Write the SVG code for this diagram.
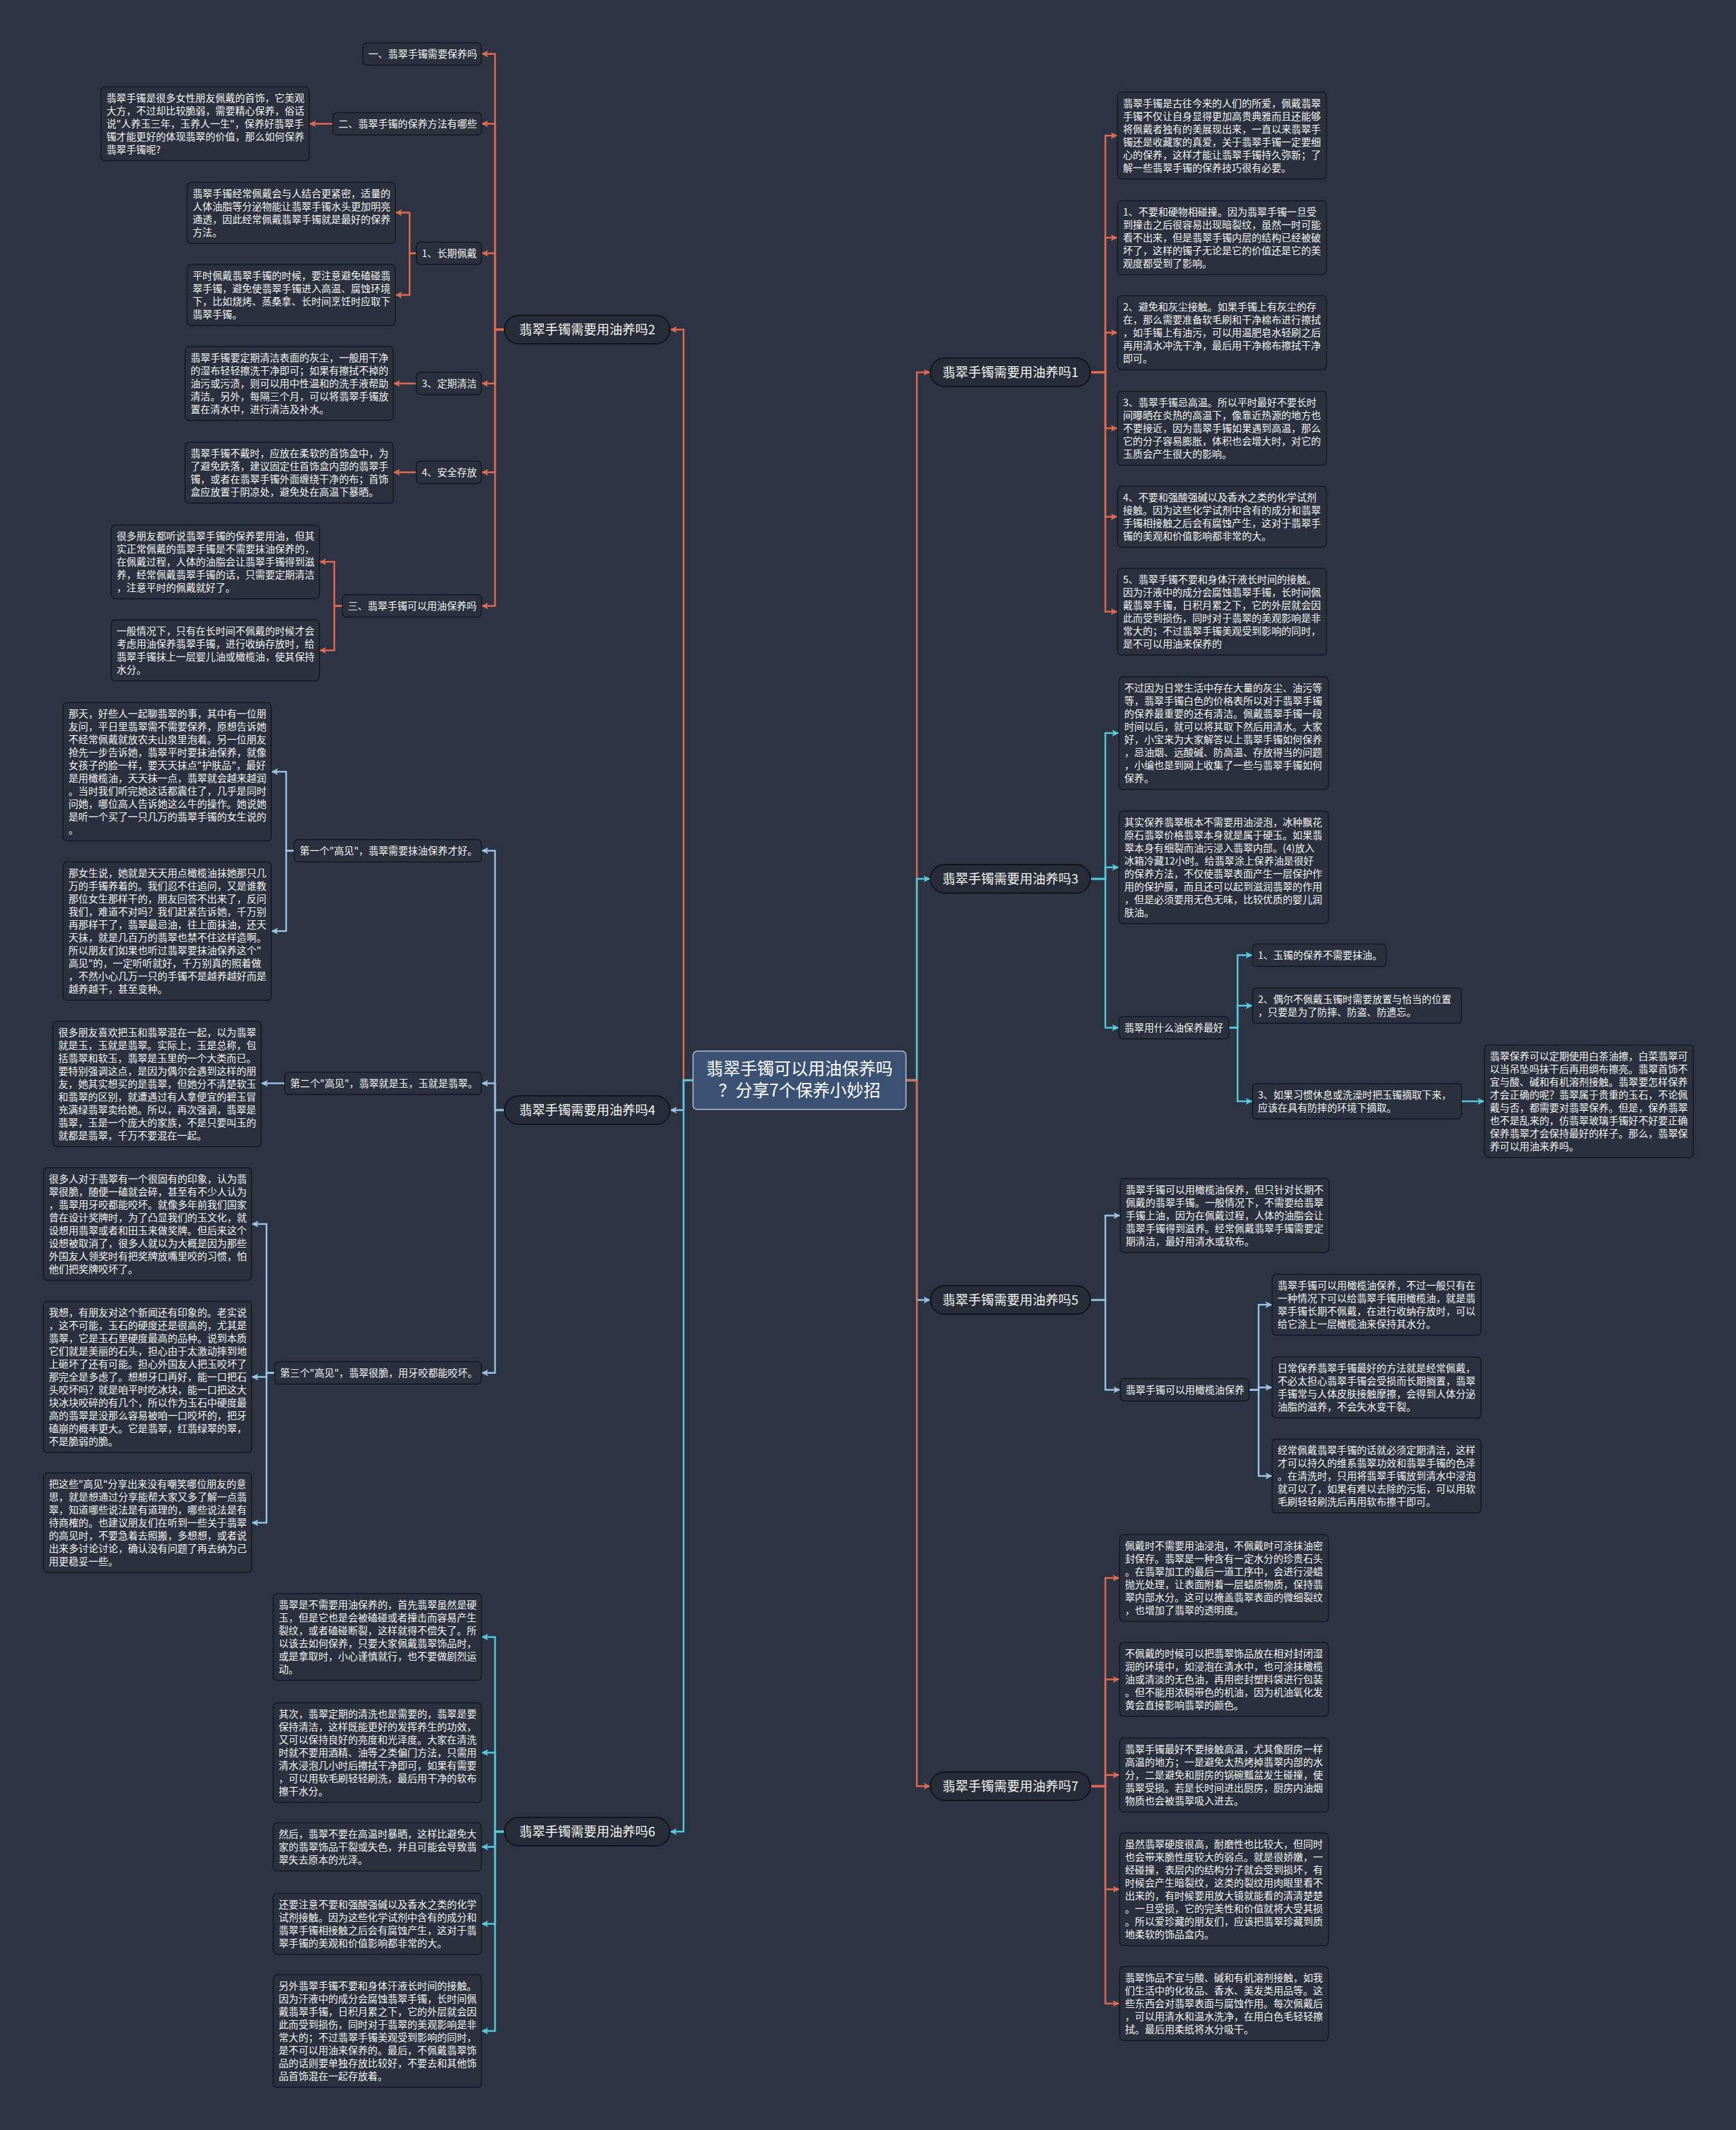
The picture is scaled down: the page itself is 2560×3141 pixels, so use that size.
<svg xmlns="http://www.w3.org/2000/svg" width="2560" height="3141" viewBox="0 0 2560 3141">
<style>
.bg{fill:#2c3342}
.box{fill:#2a303e;stroke:#15191f;stroke-width:1.5}
.br{fill:#262c38;stroke:#11151b;stroke-width:2}
.t{font-family:"Noto Sans CJK SC","Noto Sans",sans-serif;font-size:14.6px;fill:#f4f4f4}
.bt{font-family:"Noto Sans CJK SC","Noto Sans",sans-serif;font-size:19px;fill:#f4f4f4;text-anchor:middle}
.ct{font-family:"Noto Sans CJK SC","Noto Sans",sans-serif;font-size:25px;fill:#ffffff;text-anchor:middle}
.co{fill:none;stroke:#e06b53;stroke-width:2.5;marker-end:url(#aco)}
.lb{fill:none;stroke:#9dc3e2;stroke-width:2.5;marker-end:url(#alb)}
.cy{fill:none;stroke:#56cbe0;stroke-width:2.5;marker-end:url(#acy)}
</style>
<defs>
<marker id="aco" markerUnits="userSpaceOnUse" markerWidth="11" markerHeight="10" refX="10" refY="5" orient="auto"><path d="M0,0 L10,5 L0,10 L2.5,5 Z" fill="#e06b53"/></marker>
<marker id="alb" markerUnits="userSpaceOnUse" markerWidth="11" markerHeight="10" refX="10" refY="5" orient="auto"><path d="M0,0 L10,5 L0,10 L2.5,5 Z" fill="#9dc3e2"/></marker>
<marker id="acy" markerUnits="userSpaceOnUse" markerWidth="11" markerHeight="10" refX="10" refY="5" orient="auto"><path d="M0,0 L10,5 L0,10 L2.5,5 Z" fill="#56cbe0"/></marker>
</defs>
<rect class="bg" x="0" y="0" width="2560" height="3141"/>

<g id="connectors">
<path class="co" d="M1022,1593 H1008 V486 H988"/>
<path class="lb" d="M1022,1593 H1008 V1637 H988"/>
<path class="cy" d="M1022,1593 H1008 V2701 H988"/>
<path class="co" d="M1336,1593 H1352 V549 H1372"/>
<path class="cy" d="M1336,1593 H1352 V1296 H1372"/>
<path class="lb" d="M1336,1593 H1352 V1917 H1372"/>
<path class="co" d="M1336,1593 H1352 V2634 H1372"/>

<path class="co" d="M744,486 H730 V79.5 H710"/>
<path class="co" d="M744,486 H730 V182.5 H710"/>
<path class="co" d="M744,486 H730 V373.5 H710"/>
<path class="co" d="M744,486 H730 V565.5 H710"/>
<path class="co" d="M744,486 H730 V696.5 H710"/>
<path class="co" d="M744,486 H730 V893.5 H710"/>
<path class="co" d="M491,182.5 H456"/>
<path class="co" d="M614,373.5 H604 V313.5 H583"/>
<path class="co" d="M614,373.5 H604 V435 H583"/>
<path class="co" d="M614,565.5 H580"/>
<path class="co" d="M614,696.5 H580"/>
<path class="co" d="M505,893.5 H493 V828.5 H471"/>
<path class="co" d="M505,893.5 H493 V959 H471"/>

<path class="lb" d="M744,1637 H730 V1254.5 H710"/>
<path class="lb" d="M744,1637 H730 V1597.5 H710"/>
<path class="lb" d="M744,1637 H730 V2024.5 H710"/>
<path class="lb" d="M434,1254.5 H422 V1138 H400"/>
<path class="lb" d="M434,1254.5 H422 V1373 H400"/>
<path class="lb" d="M420,1597.5 H385"/>
<path class="lb" d="M405,2024.5 H393 V1805 H371"/>
<path class="lb" d="M405,2024.5 H393 V2030.5 H371"/>
<path class="lb" d="M405,2024.5 H393 V2245.5 H371"/>

<path class="cy" d="M744,2701 H730 V2414 H710"/>
<path class="cy" d="M744,2701 H730 V2584.5 H710"/>
<path class="cy" d="M744,2701 H730 V2723.5 H710"/>
<path class="cy" d="M744,2701 H730 V2837 H710"/>
<path class="cy" d="M744,2701 H730 V2995 H710"/>

<path class="co" d="M1608,549 H1630 V200 H1648"/>
<path class="co" d="M1608,549 H1630 V350.5 H1648"/>
<path class="co" d="M1608,549 H1630 V490.5 H1648"/>
<path class="co" d="M1608,549 H1630 V631.5 H1648"/>
<path class="co" d="M1608,549 H1630 V762 H1648"/>
<path class="co" d="M1608,549 H1630 V902 H1648"/>

<path class="cy" d="M1608,1296 H1630 V1081 H1650"/>
<path class="cy" d="M1608,1296 H1630 V1279 H1650"/>
<path class="cy" d="M1608,1296 H1630 V1515.5 H1650"/>
<path class="cy" d="M1812,1515.5 H1825 V1408.5 H1847"/>
<path class="cy" d="M1812,1515.5 H1825 V1483 H1847"/>
<path class="cy" d="M1812,1515.5 H1825 V1624 H1847"/>
<path class="cy" d="M2155,1624 H2189"/>

<path class="lb" d="M1608,1917 H1630 V1792.5 H1652"/>
<path class="lb" d="M1608,1917 H1630 V2049.5 H1652"/>
<path class="lb" d="M1842,2049.5 H1856 V1924 H1876"/>
<path class="lb" d="M1842,2049.5 H1856 V2046 H1876"/>
<path class="lb" d="M1842,2049.5 H1856 V2176.5 H1876"/>

<path class="co" d="M1608,2634 H1630 V2327 H1651"/>
<path class="co" d="M1608,2634 H1630 V2476.5 H1651"/>
<path class="co" d="M1608,2634 H1630 V2617.5 H1651"/>
<path class="co" d="M1608,2634 H1630 V2786 H1651"/>
<path class="co" d="M1608,2634 H1630 V2954.5 H1651"/>
</g>

<g id="center">
<rect x="1022" y="1550" width="314" height="86" rx="6" fill="#3b5274" stroke="#b4c2d6" stroke-width="1.5"/>
<text class="ct" x="1179" y="1585">翡翠手镯可以用油保养吗</text>
<text class="ct" x="1179" y="1617">？分享7个保养小妙招</text>
</g>

<g id="b2"><rect class="br" x="744" y="465" width="244" height="42" rx="21"/><text class="bt" x="866" y="493">翡翠手镯需要用油养吗2</text></g>
<g id="b4"><rect class="br" x="744" y="1616" width="244" height="42" rx="21"/><text class="bt" x="866" y="1644">翡翠手镯需要用油养吗4</text></g>
<g id="b6"><rect class="br" x="744" y="2680" width="244" height="42" rx="21"/><text class="bt" x="866" y="2708">翡翠手镯需要用油养吗6</text></g>
<g id="b1"><rect class="br" x="1372" y="528" width="236" height="42" rx="21"/><text class="bt" x="1490" y="556">翡翠手镯需要用油养吗1</text></g>
<g id="b3"><rect class="br" x="1372" y="1275" width="236" height="42" rx="21"/><text class="bt" x="1490" y="1303">翡翠手镯需要用油养吗3</text></g>
<g id="b5"><rect class="br" x="1372" y="1896" width="236" height="42" rx="21"/><text class="bt" x="1490" y="1924">翡翠手镯需要用油养吗5</text></g>
<g id="b7"><rect class="br" x="1372" y="2613" width="236" height="42" rx="21"/><text class="bt" x="1490" y="2641">翡翠手镯需要用油养吗7</text></g>

<!-- branch 2 -->
<g id="n2a"><rect class="box" x="535" y="63" width="175" height="33" rx="6"/><text class="t" x="543" y="85">一、翡翠手镯需要保养吗</text></g>
<g id="n2b"><rect class="box" x="491" y="166" width="219" height="33" rx="6"/><text class="t" x="499" y="188">二、翡翠手镯的保养方法有哪些</text></g>
<g id="n2b1"><rect class="box" x="149" y="128" width="307" height="109" rx="6"/><text class="t" x="157" y="150"><tspan x="157" dy="0">翡翠手镯是很多女性朋友佩戴的首饰，它美观</tspan><tspan x="157" dy="19">大方，不过却比较脆弱，需要精心保养，俗话</tspan><tspan x="157" dy="19">说"人养玉三年，玉养人一生"，保养好翡翠手</tspan><tspan x="157" dy="19">镯才能更好的体现翡翠的价值，那么如何保养</tspan><tspan x="157" dy="19">翡翠手镯呢?</tspan></text></g>
<g id="n2c"><rect class="box" x="614" y="357" width="96" height="33" rx="6"/><text class="t" x="622" y="379">1、长期佩戴</text></g>
<g id="n2c1"><rect class="box" x="276" y="269" width="307" height="90" rx="6"/><text class="t" x="284" y="291"><tspan x="284" dy="0">翡翠手镯经常佩戴会与人结合更紧密，适量的</tspan><tspan x="284" dy="19">人体油脂等分泌物能让翡翠手镯水头更加明亮</tspan><tspan x="284" dy="19">通透，因此经常佩戴翡翠手镯就是最好的保养</tspan><tspan x="284" dy="19">方法。</tspan></text></g>
<g id="n2c2"><rect class="box" x="276" y="390" width="307" height="90" rx="6"/><text class="t" x="284" y="412"><tspan x="284" dy="0">平时佩戴翡翠手镯的时候，要注意避免磕碰翡</tspan><tspan x="284" dy="19">翠手镯，避免使翡翠手镯进入高温、腐蚀环境</tspan><tspan x="284" dy="19">下，比如烧烤、蒸桑拿、长时间烹饪时应取下</tspan><tspan x="284" dy="19">翡翠手镯。</tspan></text></g>
<g id="n2d"><rect class="box" x="614" y="549" width="96" height="33" rx="6"/><text class="t" x="622" y="571">3、定期清洁</text></g>
<g id="n2d1"><rect class="box" x="273" y="511" width="307" height="109" rx="6"/><text class="t" x="281" y="533"><tspan x="281" dy="0">翡翠手镯要定期清洁表面的灰尘，一般用干净</tspan><tspan x="281" dy="19">的湿布轻轻擦洗干净即可；如果有擦拭不掉的</tspan><tspan x="281" dy="19">油污或污渍，则可以用中性温和的洗手液帮助</tspan><tspan x="281" dy="19">清洁。另外，每隔三个月，可以将翡翠手镯放</tspan><tspan x="281" dy="19">置在清水中，进行清洁及补水。</tspan></text></g>
<g id="n2e"><rect class="box" x="614" y="680" width="96" height="33" rx="6"/><text class="t" x="622" y="702">4、安全存放</text></g>
<g id="n2e1"><rect class="box" x="273" y="652" width="307" height="90" rx="6"/><text class="t" x="281" y="674"><tspan x="281" dy="0">翡翠手镯不戴时，应放在柔软的首饰盒中，为</tspan><tspan x="281" dy="19">了避免跌落，建议固定住首饰盒内部的翡翠手</tspan><tspan x="281" dy="19">镯，或者在翡翠手镯外面缠绕干净的布；首饰</tspan><tspan x="281" dy="19">盒应放置于阴凉处，避免处在高温下暴晒。</tspan></text></g>
<g id="n2f"><rect class="box" x="505" y="877" width="205" height="33" rx="6"/><text class="t" x="513" y="899">三、翡翠手镯可以用油保养吗</text></g>
<g id="n2f1"><rect class="box" x="164" y="774" width="307" height="109" rx="6"/><text class="t" x="172" y="796"><tspan x="172" dy="0">很多朋友都听说翡翠手镯的保养要用油，但其</tspan><tspan x="172" dy="19">实正常佩戴的翡翠手镯是不需要抹油保养的，</tspan><tspan x="172" dy="19">在佩戴过程，人体的油脂会让翡翠手镯得到滋</tspan><tspan x="172" dy="19">养，经常佩戴翡翠手镯的话，只需要定期清洁</tspan><tspan x="172" dy="19">，注意平时的佩戴就好了。</tspan></text></g>
<g id="n2f2"><rect class="box" x="164" y="914" width="307" height="90" rx="6"/><text class="t" x="172" y="936"><tspan x="172" dy="0">一般情况下，只有在长时间不佩戴的时候才会</tspan><tspan x="172" dy="19">考虑用油保养翡翠手镯，进行收纳存放时，给</tspan><tspan x="172" dy="19">翡翠手镯抹上一层婴儿油或橄榄油，使其保持</tspan><tspan x="172" dy="19">水分。</tspan></text></g>

<!-- branch 4 -->
<g id="n4a"><rect class="box" x="434" y="1238" width="276" height="33" rx="6"/><text class="t" x="442" y="1260">第一个"高见"，翡翠需要抹油保养才好。</text></g>
<g id="n4a1"><rect class="box" x="93" y="1036" width="307" height="204" rx="6"/><text class="t" x="101" y="1058"><tspan x="101" dy="0">那天，好些人一起聊翡翠的事，其中有一位朋</tspan><tspan x="101" dy="19">友问，平日里翡翠需不需要保养，原想告诉她</tspan><tspan x="101" dy="19">不经常佩戴就放农夫山泉里泡着。另一位朋友</tspan><tspan x="101" dy="19">抢先一步告诉她，翡翠平时要抹油保养，就像</tspan><tspan x="101" dy="19">女孩子的脸一样，要天天抹点"护肤品"，最好</tspan><tspan x="101" dy="19">是用橄榄油，天天抹一点，翡翠就会越来越润</tspan><tspan x="101" dy="19">。当时我们听完她这话都震住了，几乎是同时</tspan><tspan x="101" dy="19">问她，哪位高人告诉她这么牛的操作。她说她</tspan><tspan x="101" dy="19">是听一个买了一只几万的翡翠手镯的女生说的</tspan><tspan x="101" dy="19">。</tspan></text></g>
<g id="n4a2"><rect class="box" x="93" y="1271" width="307" height="204" rx="6"/><text class="t" x="101" y="1293"><tspan x="101" dy="0">那女生说，她就是天天用点橄榄油抹她那只几</tspan><tspan x="101" dy="19">万的手镯养着的。我们忍不住追问，又是谁教</tspan><tspan x="101" dy="19">那位女生那样干的，朋友回答不出来了，反问</tspan><tspan x="101" dy="19">我们，难道不对吗？我们赶紧告诉她，千万别</tspan><tspan x="101" dy="19">再那样干了，翡翠最忌油，往上面抹油，还天</tspan><tspan x="101" dy="19">天抹，就是几百万的翡翠也禁不住这样造啊。</tspan><tspan x="101" dy="19">所以朋友们如果也听过翡翠要抹油保养这个"</tspan><tspan x="101" dy="19">高见"的，一定听听就好，千万别真的照着做</tspan><tspan x="101" dy="19">，不然小心几万一只的手镯不是越养越好而是</tspan><tspan x="101" dy="19">越养越干，甚至变种。</tspan></text></g>
<g id="n4b"><rect class="box" x="420" y="1581" width="290" height="33" rx="6"/><text class="t" x="428" y="1603">第二个"高见"，翡翠就是玉，玉就是翡翠。</text></g>
<g id="n4b1"><rect class="box" x="78" y="1506" width="307" height="185" rx="6"/><text class="t" x="86" y="1528"><tspan x="86" dy="0">很多朋友喜欢把玉和翡翠混在一起，以为翡翠</tspan><tspan x="86" dy="19">就是玉，玉就是翡翠。实际上，玉是总称，包</tspan><tspan x="86" dy="19">括翡翠和软玉，翡翠是玉里的一个大类而已。</tspan><tspan x="86" dy="19">要特别强调这点，是因为偶尔会遇到这样的朋</tspan><tspan x="86" dy="19">友，她其实想买的是翡翠，但她分不清楚软玉</tspan><tspan x="86" dy="19">和翡翠的区别，就遭遇过有人拿便宜的碧玉冒</tspan><tspan x="86" dy="19">充满绿翡翠卖给她。所以，再次强调，翡翠是</tspan><tspan x="86" dy="19">翡翠，玉是一个庞大的家族，不是只要叫玉的</tspan><tspan x="86" dy="19">就都是翡翠，千万不要混在一起。</tspan></text></g>
<g id="n4c"><rect class="box" x="405" y="2008" width="305" height="33" rx="6"/><text class="t" x="413" y="2030">第三个"高见"，翡翠很脆，用牙咬都能咬坏。</text></g>
<g id="n4c1"><rect class="box" x="64" y="1722" width="307" height="166" rx="6"/><text class="t" x="72" y="1744"><tspan x="72" dy="0">很多人对于翡翠有一个很固有的印象，认为翡</tspan><tspan x="72" dy="19">翠很脆，随便一磕就会碎，甚至有不少人认为</tspan><tspan x="72" dy="19">，翡翠用牙咬都能咬坏。就像多年前我们国家</tspan><tspan x="72" dy="19">曾在设计奖牌时，为了凸显我们的玉文化，就</tspan><tspan x="72" dy="19">设想用翡翠或者和田玉来做奖牌。但后来这个</tspan><tspan x="72" dy="19">设想被取消了，很多人就以为大概是因为那些</tspan><tspan x="72" dy="19">外国友人领奖时有把奖牌放嘴里咬的习惯，怕</tspan><tspan x="72" dy="19">他们把奖牌咬坏了。</tspan></text></g>
<g id="n4c2"><rect class="box" x="64" y="1919" width="307" height="223" rx="6"/><text class="t" x="72" y="1941"><tspan x="72" dy="0">我想，有朋友对这个新闻还有印象的。老实说</tspan><tspan x="72" dy="19">，这不可能，玉石的硬度还是很高的，尤其是</tspan><tspan x="72" dy="19">翡翠，它是玉石里硬度最高的品种。说到本质</tspan><tspan x="72" dy="19">它们就是美丽的石头，担心由于太激动摔到地</tspan><tspan x="72" dy="19">上砸坏了还有可能。担心外国友人把玉咬坏了</tspan><tspan x="72" dy="19">那完全是多虑了。想想牙口再好，能一口把石</tspan><tspan x="72" dy="19">头咬坏吗？就是咱平时吃冰块，能一口把这大</tspan><tspan x="72" dy="19">块冰块咬碎的有几个，所以作为玉石中硬度最</tspan><tspan x="72" dy="19">高的翡翠是没那么容易被咱一口咬坏的，把牙</tspan><tspan x="72" dy="19">磕崩的概率更大。它是翡翠，红翡绿翠的翠，</tspan><tspan x="72" dy="19">不是脆弱的脆。</tspan></text></g>
<g id="n4c3"><rect class="box" x="64" y="2172" width="307" height="147" rx="6"/><text class="t" x="72" y="2194"><tspan x="72" dy="0">把这些"高见"分享出来没有嘲笑哪位朋友的意</tspan><tspan x="72" dy="19">思，就是想通过分享能帮大家又多了解一点翡</tspan><tspan x="72" dy="19">翠，知道哪些说法是有道理的，哪些说法是有</tspan><tspan x="72" dy="19">待商榷的。也建议朋友们在听到一些关于翡翠</tspan><tspan x="72" dy="19">的高见时，不要急着去照搬，多想想，或者说</tspan><tspan x="72" dy="19">出来多讨论讨论，确认没有问题了再去纳为己</tspan><tspan x="72" dy="19">用更稳妥一些。</tspan></text></g>

<!-- branch 6 -->
<g id="n6a"><rect class="box" x="403" y="2350" width="307" height="128" rx="6"/><text class="t" x="411" y="2372"><tspan x="411" dy="0">翡翠是不需要用油保养的，首先翡翠虽然是硬</tspan><tspan x="411" dy="19">玉，但是它也是会被磕碰或者撞击而容易产生</tspan><tspan x="411" dy="19">裂纹，或者磕碰断裂，这样就得不偿失了。所</tspan><tspan x="411" dy="19">以该去如何保养，只要大家佩戴翡翠饰品时，</tspan><tspan x="411" dy="19">或是拿取时，小心谨慎就行，也不要做剧烈运</tspan><tspan x="411" dy="19">动。</tspan></text></g>
<g id="n6b"><rect class="box" x="403" y="2511" width="307" height="147" rx="6"/><text class="t" x="411" y="2533"><tspan x="411" dy="0">其次，翡翠定期的清洗也是需要的，翡翠是要</tspan><tspan x="411" dy="19">保持清洁，这样既能更好的发挥养生的功效，</tspan><tspan x="411" dy="19">又可以保持良好的亮度和光泽度。大家在清洗</tspan><tspan x="411" dy="19">时就不要用酒精、油等之类偏门方法，只需用</tspan><tspan x="411" dy="19">清水浸泡几小时后擦拭干净即可，如果有需要</tspan><tspan x="411" dy="19">，可以用软毛刷轻轻刷洗，最后用干净的软布</tspan><tspan x="411" dy="19">擦干水分。</tspan></text></g>
<g id="n6c"><rect class="box" x="403" y="2688" width="307" height="71" rx="6"/><text class="t" x="411" y="2710"><tspan x="411" dy="0">然后，翡翠不要在高温时暴晒，这样比避免大</tspan><tspan x="411" dy="19">家的翡翠饰品干裂或失色，并且可能会导致翡</tspan><tspan x="411" dy="19">翠失去原本的光泽。</tspan></text></g>
<g id="n6d"><rect class="box" x="403" y="2792" width="307" height="90" rx="6"/><text class="t" x="411" y="2814"><tspan x="411" dy="0">还要注意不要和强酸强碱以及香水之类的化学</tspan><tspan x="411" dy="19">试剂接触。因为这些化学试剂中含有的成分和</tspan><tspan x="411" dy="19">翡翠手镯相接触之后会有腐蚀产生，这对于翡</tspan><tspan x="411" dy="19">翠手镯的美观和价值影响都非常的大。</tspan></text></g>
<g id="n6e"><rect class="box" x="403" y="2912" width="307" height="166" rx="6"/><text class="t" x="411" y="2934"><tspan x="411" dy="0">另外翡翠手镯不要和身体汗液长时间的接触。</tspan><tspan x="411" dy="19">因为汗液中的成分会腐蚀翡翠手镯，长时间佩</tspan><tspan x="411" dy="19">戴翡翠手镯，日积月累之下，它的外层就会因</tspan><tspan x="411" dy="19">此而受到损伤，同时对于翡翠的美观影响是非</tspan><tspan x="411" dy="19">常大的；不过翡翠手镯美观受到影响的同时，</tspan><tspan x="411" dy="19">是不可以用油来保养的。最后，不佩戴翡翠饰</tspan><tspan x="411" dy="19">品的话则要单独存放比较好，不要去和其他饰</tspan><tspan x="411" dy="19">品首饰混在一起存放着。</tspan></text></g>

<!-- branch 1 -->
<g id="n1a"><rect class="box" x="1648" y="136" width="308" height="128" rx="6"/><text class="t" x="1656" y="158"><tspan x="1656" dy="0">翡翠手镯是古往今来的人们的所爱，佩戴翡翠</tspan><tspan x="1656" dy="19">手镯不仅让自身显得更加高贵典雅而且还能够</tspan><tspan x="1656" dy="19">将佩戴者独有的美展现出来，一直以来翡翠手</tspan><tspan x="1656" dy="19">镯还是收藏家的真爱，关于翡翠手镯一定要细</tspan><tspan x="1656" dy="19">心的保养，这样才能让翡翠手镯持久弥新；了</tspan><tspan x="1656" dy="19">解一些翡翠手镯的保养技巧很有必要。</tspan></text></g>
<g id="n1b"><rect class="box" x="1648" y="296" width="308" height="109" rx="6"/><text class="t" x="1656" y="318"><tspan x="1656" dy="0">1、不要和硬物相碰撞。因为翡翠手镯一旦受</tspan><tspan x="1656" dy="19">到撞击之后很容易出现暗裂纹，虽然一时可能</tspan><tspan x="1656" dy="19">看不出来，但是翡翠手镯内层的结构已经被破</tspan><tspan x="1656" dy="19">坏了，这样的镯子无论是它的价值还是它的美</tspan><tspan x="1656" dy="19">观度都受到了影响。</tspan></text></g>
<g id="n1c"><rect class="box" x="1648" y="436" width="308" height="109" rx="6"/><text class="t" x="1656" y="458"><tspan x="1656" dy="0">2、避免和灰尘接触。如果手镯上有灰尘的存</tspan><tspan x="1656" dy="19">在，那么需要准备软毛刷和干净棉布进行擦拭</tspan><tspan x="1656" dy="19">，如手镯上有油污，可以用温肥皂水轻刷之后</tspan><tspan x="1656" dy="19">再用清水冲洗干净，最后用干净棉布擦拭干净</tspan><tspan x="1656" dy="19">即可。</tspan></text></g>
<g id="n1d"><rect class="box" x="1648" y="577" width="308" height="109" rx="6"/><text class="t" x="1656" y="599"><tspan x="1656" dy="0">3、翡翠手镯忌高温。所以平时最好不要长时</tspan><tspan x="1656" dy="19">间曝晒在炎热的高温下，像靠近热源的地方也</tspan><tspan x="1656" dy="19">不要接近，因为翡翠手镯如果遇到高温，那么</tspan><tspan x="1656" dy="19">它的分子容易膨胀，体积也会增大时，对它的</tspan><tspan x="1656" dy="19">玉质会产生很大的影响。</tspan></text></g>
<g id="n1e"><rect class="box" x="1648" y="717" width="308" height="90" rx="6"/><text class="t" x="1656" y="739"><tspan x="1656" dy="0">4、不要和强酸强碱以及香水之类的化学试剂</tspan><tspan x="1656" dy="19">接触。因为这些化学试剂中含有的成分和翡翠</tspan><tspan x="1656" dy="19">手镯相接触之后会有腐蚀产生，这对于翡翠手</tspan><tspan x="1656" dy="19">镯的美观和价值影响都非常的大。</tspan></text></g>
<g id="n1f"><rect class="box" x="1648" y="838" width="308" height="128" rx="6"/><text class="t" x="1656" y="860"><tspan x="1656" dy="0">5、翡翠手镯不要和身体汗液长时间的接触。</tspan><tspan x="1656" dy="19">因为汗液中的成分会腐蚀翡翠手镯，长时间佩</tspan><tspan x="1656" dy="19">戴翡翠手镯，日积月累之下，它的外层就会因</tspan><tspan x="1656" dy="19">此而受到损伤，同时对于翡翠的美观影响是非</tspan><tspan x="1656" dy="19">常大的；不过翡翠手镯美观受到影响的同时，</tspan><tspan x="1656" dy="19">是不可以用油来保养的</tspan></text></g>

<!-- branch 3 -->
<g id="n3a"><rect class="box" x="1650" y="998" width="309" height="166" rx="6"/><text class="t" x="1658" y="1020"><tspan x="1658" dy="0">不过因为日常生活中存在大量的灰尘、油污等</tspan><tspan x="1658" dy="19">等，翡翠手镯白色的价格表所以对于翡翠手镯</tspan><tspan x="1658" dy="19">的保养最重要的还有清洁。佩戴翡翠手镯一段</tspan><tspan x="1658" dy="19">时间以后，就可以将其取下然后用清水。大家</tspan><tspan x="1658" dy="19">好，小宝来为大家解答以上翡翠手镯如何保养</tspan><tspan x="1658" dy="19">，忌油烟、远酸碱、防高温、存放得当的问题</tspan><tspan x="1658" dy="19">，小编也是到网上收集了一些与翡翠手镯如何</tspan><tspan x="1658" dy="19">保养。</tspan></text></g>
<g id="n3b"><rect class="box" x="1650" y="1196" width="309" height="166" rx="6"/><text class="t" x="1658" y="1218"><tspan x="1658" dy="0">其实保养翡翠根本不需要用油浸泡，冰种飘花</tspan><tspan x="1658" dy="19">原石翡翠价格翡翠本身就是属于硬玉。如果翡</tspan><tspan x="1658" dy="19">翠本身有细裂而油污浸入翡翠内部。(4)放入</tspan><tspan x="1658" dy="19">冰箱冷藏12小时。给翡翠涂上保养油是很好</tspan><tspan x="1658" dy="19">的保养方法，不仅使翡翠表面产生一层保护作</tspan><tspan x="1658" dy="19">用的保护膜，而且还可以起到滋润翡翠的作用</tspan><tspan x="1658" dy="19">，但是必须要用无色无味，比较优质的婴儿润</tspan><tspan x="1658" dy="19">肤油。</tspan></text></g>
<g id="n3c"><rect class="box" x="1650" y="1499" width="162" height="33" rx="6"/><text class="t" x="1658" y="1521">翡翠用什么油保养最好</text></g>
<g id="n3c1"><rect class="box" x="1847" y="1392" width="197" height="33" rx="6"/><text class="t" x="1855" y="1414">1、玉镯的保养不需要抹油。</text></g>
<g id="n3c2"><rect class="box" x="1847" y="1457" width="308" height="52" rx="6"/><text class="t" x="1855" y="1479"><tspan x="1855" dy="0">2、偶尔不佩戴玉镯时需要放置与恰当的位置</tspan><tspan x="1855" dy="19">，只要是为了防摔、防盗、防遗忘。</tspan></text></g>
<g id="n3c3"><rect class="box" x="1847" y="1598" width="308" height="52" rx="6"/><text class="t" x="1855" y="1620"><tspan x="1855" dy="0">3、如果习惯休息或洗澡时把玉镯摘取下来，</tspan><tspan x="1855" dy="19">应该在具有防摔的环境下摘取。</tspan></text></g>
<g id="n3c3a"><rect class="box" x="2189" y="1541" width="308" height="166" rx="6"/><text class="t" x="2197" y="1563"><tspan x="2197" dy="0">翡翠保养可以定期使用白茶油擦，白菜翡翠可</tspan><tspan x="2197" dy="19">以当吊坠吗抹干后再用绸布擦亮。翡翠首饰不</tspan><tspan x="2197" dy="19">宜与酸、碱和有机溶剂接触。翡翠要怎样保养</tspan><tspan x="2197" dy="19">才会正确的呢？翡翠属于贵重的玉石，不论佩</tspan><tspan x="2197" dy="19">戴与否，都需要对翡翠保养。但是，保养翡翠</tspan><tspan x="2197" dy="19">也不是乱来的，仿翡翠玻璃手镯好不好要正确</tspan><tspan x="2197" dy="19">保养翡翠才会保持最好的样子。那么，翡翠保</tspan><tspan x="2197" dy="19">养可以用油来养吗。</tspan></text></g>

<!-- branch 5 -->
<g id="n5a"><rect class="box" x="1652" y="1738" width="308" height="109" rx="6"/><text class="t" x="1660" y="1760"><tspan x="1660" dy="0">翡翠手镯可以用橄榄油保养，但只针对长期不</tspan><tspan x="1660" dy="19">佩戴的翡翠手镯。一般情况下，不需要给翡翠</tspan><tspan x="1660" dy="19">手镯上油，因为在佩戴过程，人体的油脂会让</tspan><tspan x="1660" dy="19">翡翠手镯得到滋养。经常佩戴翡翠手镯需要定</tspan><tspan x="1660" dy="19">期清洁，最好用清水或软布。</tspan></text></g>
<g id="n5b"><rect class="box" x="1652" y="2033" width="190" height="33" rx="6"/><text class="t" x="1660" y="2055">翡翠手镯可以用橄榄油保养</text></g>
<g id="n5b1"><rect class="box" x="1876" y="1879" width="308" height="90" rx="6"/><text class="t" x="1884" y="1901"><tspan x="1884" dy="0">翡翠手镯可以用橄榄油保养，不过一般只有在</tspan><tspan x="1884" dy="19">一种情况下可以给翡翠手镯用橄榄油，就是翡</tspan><tspan x="1884" dy="19">翠手镯长期不佩戴，在进行收纳存放时，可以</tspan><tspan x="1884" dy="19">给它涂上一层橄榄油来保持其水分。</tspan></text></g>
<g id="n5b2"><rect class="box" x="1876" y="2001" width="308" height="90" rx="6"/><text class="t" x="1884" y="2023"><tspan x="1884" dy="0">日常保养翡翠手镯最好的方法就是经常佩戴，</tspan><tspan x="1884" dy="19">不必太担心翡翠手镯会受损而长期搁置，翡翠</tspan><tspan x="1884" dy="19">手镯常与人体皮肤接触摩擦，会得到人体分泌</tspan><tspan x="1884" dy="19">油脂的滋养，不会失水变干裂。</tspan></text></g>
<g id="n5b3"><rect class="box" x="1876" y="2122" width="308" height="109" rx="6"/><text class="t" x="1884" y="2144"><tspan x="1884" dy="0">经常佩戴翡翠手镯的话就必须定期清洁，这样</tspan><tspan x="1884" dy="19">才可以持久的维系翡翠功效和翡翠手镯的色泽</tspan><tspan x="1884" dy="19">。在清洗时，只用将翡翠手镯放到清水中浸泡</tspan><tspan x="1884" dy="19">就可以了，如果有难以去除的污垢，可以用软</tspan><tspan x="1884" dy="19">毛刷轻轻刷洗后再用软布擦干即可。</tspan></text></g>

<!-- branch 7 -->
<g id="n7a"><rect class="box" x="1651" y="2263" width="308" height="128" rx="6"/><text class="t" x="1659" y="2285"><tspan x="1659" dy="0">佩戴时不需要用油浸泡，不佩戴时可涂抹油密</tspan><tspan x="1659" dy="19">封保存。翡翠是一种含有一定水分的珍贵石头</tspan><tspan x="1659" dy="19">。在翡翠加工的最后一道工序中，会进行浸蜡</tspan><tspan x="1659" dy="19">抛光处理，让表面附着一层蜡质物质，保持翡</tspan><tspan x="1659" dy="19">翠内部水分。这可以掩盖翡翠表面的微细裂纹</tspan><tspan x="1659" dy="19">，也增加了翡翠的透明度。</tspan></text></g>
<g id="n7b"><rect class="box" x="1651" y="2422" width="308" height="109" rx="6"/><text class="t" x="1659" y="2444"><tspan x="1659" dy="0">不佩戴的时候可以把翡翠饰品放在相对封闭湿</tspan><tspan x="1659" dy="19">润的环境中，如浸泡在清水中，也可涂抹橄榄</tspan><tspan x="1659" dy="19">油或清淡的无色油，再用密封塑料袋进行包装</tspan><tspan x="1659" dy="19">。但不能用浓稠带色的机油，因为机油氧化发</tspan><tspan x="1659" dy="19">黄会直接影响翡翠的颜色。</tspan></text></g>
<g id="n7c"><rect class="box" x="1651" y="2563" width="308" height="109" rx="6"/><text class="t" x="1659" y="2585"><tspan x="1659" dy="0">翡翠手镯最好不要接触高温，尤其像厨房一样</tspan><tspan x="1659" dy="19">高温的地方；一是避免太热烤掉翡翠内部的水</tspan><tspan x="1659" dy="19">分，二是避免和厨房的锅碗瓢盆发生碰撞，使</tspan><tspan x="1659" dy="19">翡翠受损。若是长时间进出厨房，厨房内油烟</tspan><tspan x="1659" dy="19">物质也会被翡翠吸入进去。</tspan></text></g>
<g id="n7d"><rect class="box" x="1651" y="2703" width="308" height="166" rx="6"/><text class="t" x="1659" y="2725"><tspan x="1659" dy="0">虽然翡翠硬度很高，耐磨性也比较大，但同时</tspan><tspan x="1659" dy="19">也会带来脆性度较大的弱点。就是很娇嫩，一</tspan><tspan x="1659" dy="19">经碰撞，表层内的结构分子就会受到损坏，有</tspan><tspan x="1659" dy="19">时候会产生暗裂纹，这类的裂纹用肉眼里看不</tspan><tspan x="1659" dy="19">出来的，有时候要用放大镜就能看的清清楚楚</tspan><tspan x="1659" dy="19">。一旦受损，它的完美性和价值就将大受其损</tspan><tspan x="1659" dy="19">。所以爱珍藏的朋友们，应该把翡翠珍藏到质</tspan><tspan x="1659" dy="19">地柔软的饰品盒内。</tspan></text></g>
<g id="n7e"><rect class="box" x="1651" y="2900" width="308" height="109" rx="6"/><text class="t" x="1659" y="2922"><tspan x="1659" dy="0">翡翠饰品不宜与酸、碱和有机溶剂接触，如我</tspan><tspan x="1659" dy="19">们生活中的化妆品、香水、美发类用品等。这</tspan><tspan x="1659" dy="19">些东西会对翡翠表面与腐蚀作用。每次佩戴后</tspan><tspan x="1659" dy="19">，可以用清水和温水洗净，在用白色毛轻轻擦</tspan><tspan x="1659" dy="19">拭。最后用柔纸将水分吸干。</tspan></text></g>
</svg>
